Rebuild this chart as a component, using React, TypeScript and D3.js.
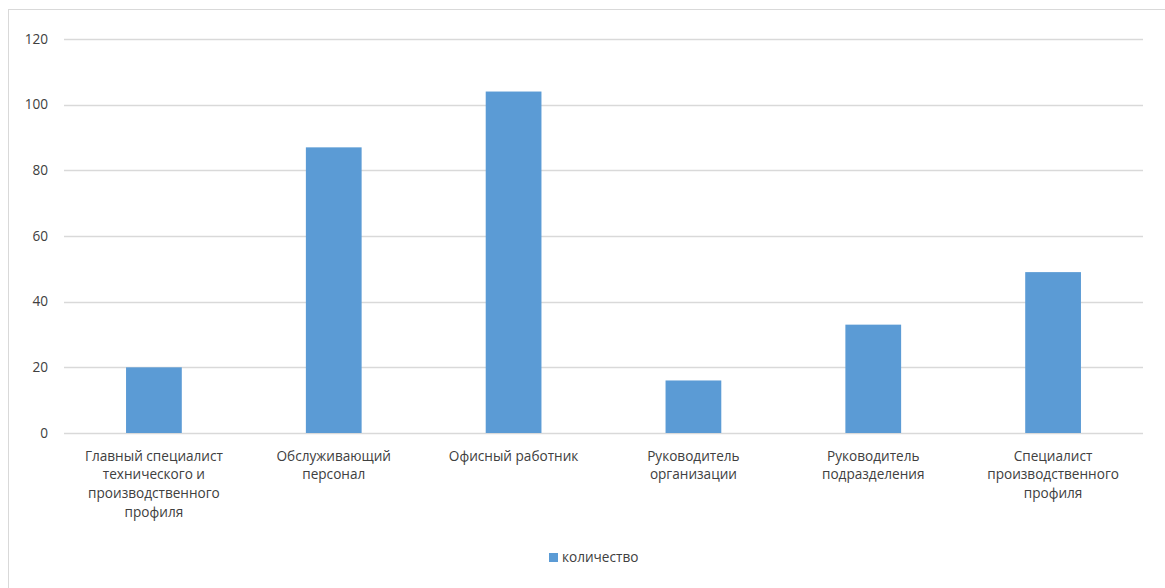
import React from "react";
import * as d3 from "d3";

const categories: string[][] = [
  ["Главный специалист", "технического и", "производственного", "профиля"],
  ["Обслуживающий", "персонал"],
  ["Офисный работник"],
  ["Руководитель", "организации"],
  ["Руководитель", "подразделения"],
  ["Специалист", "производственного", "профиля"],
];
const counts: number[] = [20, 87, 104, 16, 33, 49];
const yTicks: number[] = [0, 20, 40, 60, 80, 100, 120];
const seriesName = "количество";

const W = 1165;
const H = 588;
const FONT = "'Open Sans', sans-serif";
const FS = 13.6;
const TEXT = "#404040";
const GRID = "#d9d9d9";
const BAR = "#5b9bd5";

export default function App() {
  const x = d3
    .scaleBand<number>()
    .domain(d3.range(categories.length))
    .range([64, 1143])
    .paddingInner(0.69)
    .paddingOuter(0.345);
  const y = d3.scaleLinear().domain([0, 120]).range([433, 39]);

  return (
    <div style={{ position: "absolute", left: 0, top: 0 }}>
      <svg width={W} height={H} style={{ display: "block" }}>
        <rect x={0} y={0} width={W} height={H} fill="#fff" />
        <rect x={8.5} y={9.5} width={1160} height={590} fill="#fff" stroke={GRID} strokeWidth={1} />

        {yTicks.map((t) => (
          <g key={t}>
            <line x1={64} x2={1143} y1={Math.round(y(t)) + 0.5} y2={Math.round(y(t)) + 0.5} stroke={GRID} strokeWidth={1.3} />
            <text x={48} y={y(t)} dy="0.35em" textAnchor="end" fontFamily={FONT} fontSize={FS} fill={TEXT}>
              {t}
            </text>
          </g>
        ))}

        {counts.map((v, i) => (
          <rect key={i} x={x(i)} y={y(v)} width={x.bandwidth()} height={y(0) - y(v)} fill={BAR} />
        ))}

        {categories.map((lines, i) => {
          const cx = (x(i) as number) + x.bandwidth() / 2;
          return (
            <text key={i} textAnchor="middle" fontFamily={FONT} fontSize={FS} fill={TEXT}>
              {lines.map((l, j) => (
                <tspan key={j} x={cx} y={456 + j * 18.6} dy="0.35em">
                  {l}
                </tspan>
              ))}
            </text>
          );
        })}

        <g>
          <rect x={549} y={553} width={9} height={9} fill={BAR} />
          <text x={562} y={557.5} dy="0.35em" fontFamily={FONT} fontSize={FS} fill={TEXT}>
            {seriesName}
          </text>
        </g>
      </svg>
    </div>
  );
}
